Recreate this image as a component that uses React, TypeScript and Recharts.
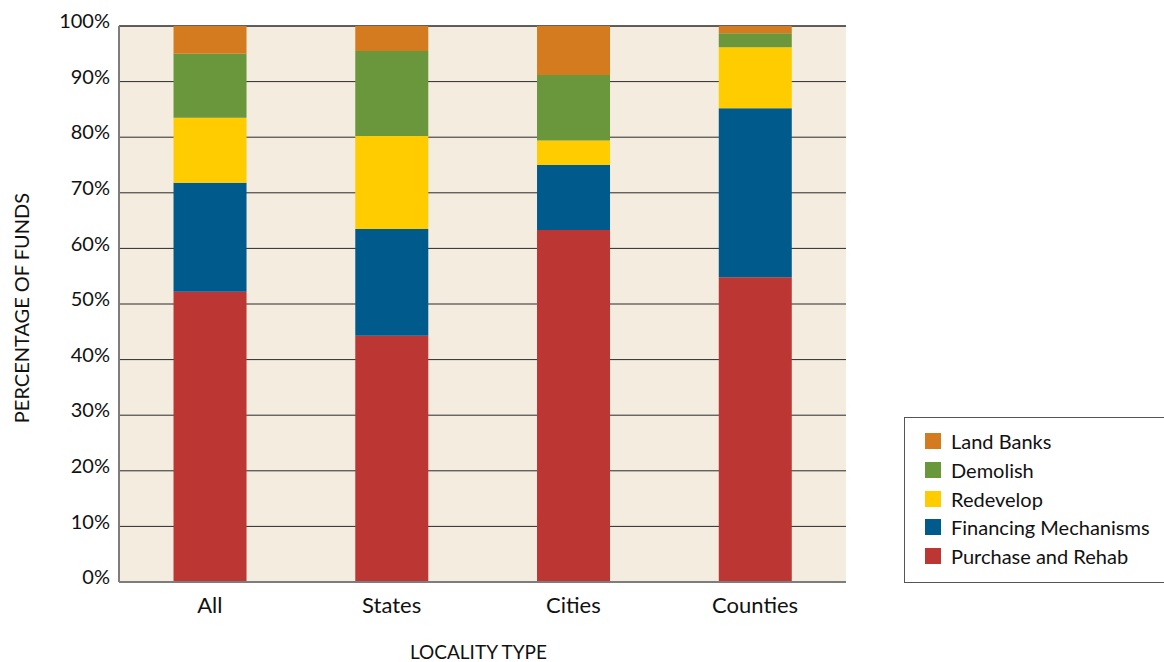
import React from "react";
import { BarChart, Bar, XAxis, YAxis, CartesianGrid, Legend, Label } from "recharts";

const categories = ["All", "States", "Cities", "Counties"];
const purchaseRehab = [52.2, 44.3, 63.3, 54.8];
const financing = [19.6, 19.2, 11.7, 30.4];
const redevelop = [11.7, 16.7, 4.4, 11.0];
const demolish = [11.5, 15.3, 11.8, 2.5];
const landBanks = [5.0, 4.5, 8.8, 1.3];
const yTicks = [0, 10, 20, 30, 40, 50, 60, 70, 80, 90, 100];

const series = [
  { key: "purchase", name: "Purchase and Rehab", color: "#BC3633", values: purchaseRehab },
  { key: "financing", name: "Financing Mechanisms", color: "#005A8C", values: financing },
  { key: "redevelop", name: "Redevelop", color: "#FFCC00", values: redevelop },
  { key: "demolish", name: "Demolish", color: "#6A963C", values: demolish },
  { key: "land", name: "Land Banks", color: "#D47B20", values: landBanks },
];

const data = categories.map((c, i) => {
  const row: Record<string, string | number> = { category: c };
  series.forEach((s) => (row[s.key] = s.values[i]));
  return row;
});

const FONT = "Lato, 'Noto Sans', sans-serif";

const LegendBox = () => (
  <div
    style={{
      border: "1px solid #555",
      background: "#fff",
      padding: "9px 0 12px 20px",
      width: 262,
      height: 166,
      boxSizing: "border-box",
      fontFamily: FONT,
      fontSize: 20,
      color: "#111",
    }}
  >
    {[...series].reverse().map((s) => (
      <div key={s.key} style={{ display: "flex", alignItems: "center", height: 28.7 }}>
        <div style={{ width: 16, height: 16, background: s.color, marginRight: 10, flexShrink: 0 }} />
        <span style={{ whiteSpace: "nowrap" }}>{s.name}</span>
      </div>
    ))}
  </div>
);

export default function App() {
  return (
    <div style={{ position: "absolute", left: 0, top: 0, width: 1164, height: 662, background: "#fff", overflow: "hidden" }}>
      <BarChart
        width={1164}
        height={662}
        data={data}
        margin={{ top: 26, right: 318, left: 0, bottom: 0 }}
        barCategoryGap="30%"
      >
        <CartesianGrid horizontal vertical={false} stroke="#2a2a2a" strokeWidth={1} fill="#F4ECDE" />
        <XAxis
          dataKey="category"
          height={80}
          tickLine={false}
          tickSize={0}
          tickMargin={15}
          axisLine={{ stroke: "#7d7d7d", strokeWidth: 2 }}
          tick={{ fill: "#111", fontSize: 22, fontFamily: FONT }}
        >
          <Label
            content={({ viewBox }: any) => (
              <text
                x={viewBox.x + viewBox.width / 2 - 4}
                y={659}
                textAnchor="middle"
                fill="#111"
                fontSize={19}
                fontFamily={FONT}
              >
                LOCALITY TYPE
              </text>
            )}
          />
        </XAxis>
        <YAxis
          width={119}
          domain={[0, 100]}
          ticks={yTicks}
          interval={0}
          tickFormatter={(v: number) => `${v}%`}
          tickLine={false}
          tickSize={0}
          tickMargin={9}
          axisLine={{ stroke: "#7d7d7d", strokeWidth: 2 }}
          tick={{ fill: "#111", fontSize: 20, fontFamily: FONT, dy: -5 }}
        >
          <Label
            content={({ viewBox }: any) => {
              const cy = viewBox.y + viewBox.height / 2 + 4;
              return (
                <text
                  x={29}
                  y={cy}
                  transform={`rotate(-90, 29, ${cy})`}
                  textAnchor="middle"
                  fill="#111"
                  fontSize={20}
                  fontFamily={FONT}
                >
                  PERCENTAGE OF FUNDS
                </text>
              );
            }}
          />
        </YAxis>
        <Legend
          layout="horizontal"
          verticalAlign="middle"
          align="center"
          wrapperStyle={{ left: 904, top: 417, width: 262, height: 166 }}
          content={() => <LegendBox />}
        />
        {series.map((s) => (
          <Bar
            key={s.key}
            dataKey={s.key}
            name={s.name}
            stackId="a"
            fill={s.color}
            isAnimationActive={false}
          />
        ))}
      </BarChart>
    </div>
  );
}
